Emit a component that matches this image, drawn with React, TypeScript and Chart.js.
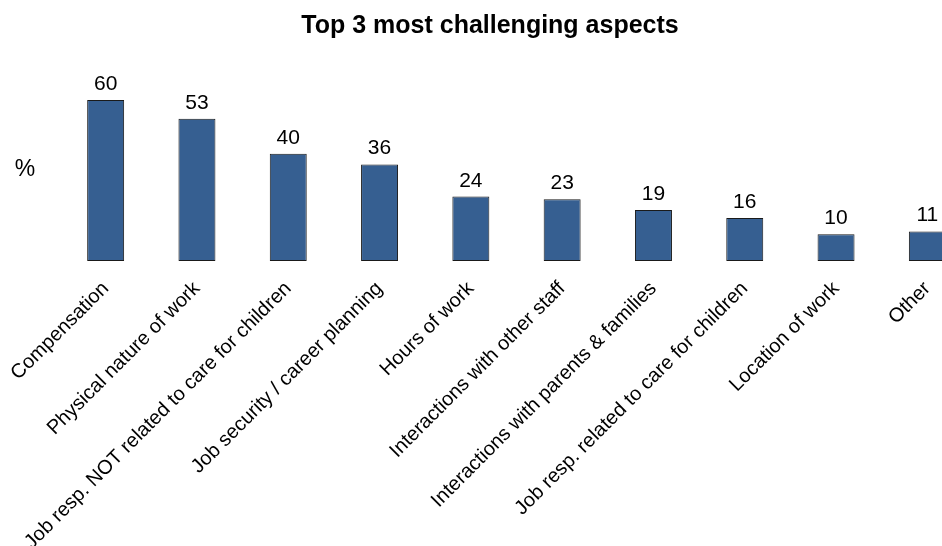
import { useEffect, useRef } from "react";
import { Chart, registerables } from "chart.js";

Chart.register(...registerables);

const categories = [
  "Compensation",
  "Physical nature of work",
  "Job resp. NOT related to care for children",
  "Job security / career planning",
  "Hours of work",
  "Interactions with other staff",
  "Interactions with parents & families",
  "Job resp. related to care for children",
  "Location of work",
  "Other",
];
const values = [60, 53, 40, 36, 24, 23, 19, 16, 10, 11];
const chartTitle = "Top 3 most challenging aspects";
const unitLabel = "%";

const FONT = "'Liberation Sans', Arial, sans-serif";
const CANVAS_W = 1000;
const CANVAS_H = 546;

export default function App() {
  const ref = useRef<HTMLCanvasElement>(null);

  useEffect(() => {
    if (!ref.current) return;
    const overlay = {
      id: "overlay",
      afterDatasetsDraw(chart: any) {
        const ctx = chart.ctx;
        const meta = chart.getDatasetMeta(0);
        ctx.save();
        ctx.fillStyle = "#000";
        ctx.textAlign = "center";
        ctx.textBaseline = "alphabetic";
        ctx.font = `21px ${FONT}`;
        meta.data.forEach((el: any, i: number) => {
          ctx.fillText(String(values[i]), el.x, el.y - 10);
        });
        ctx.font = `bold 25px ${FONT}`;
        ctx.textBaseline = "middle";
        ctx.fillText(chartTitle, 490, 26);
        ctx.font = `23px ${FONT}`;
        ctx.fillText(unitLabel, 25, 170);
        ctx.restore();
      },
    };

    const chart = new Chart(ref.current, {
      type: "bar",
      data: {
        labels: categories,
        datasets: [
          {
            data: values,
            backgroundColor: "#365f91",
            borderColor: "#1a1a1a",
            borderWidth: 1,
            borderSkipped: false,
            categoryPercentage: 1,
            barPercentage: 0.405,
          },
        ],
      },
      options: {
        responsive: false,
        animation: false,
        devicePixelRatio: 1,
        layout: { padding: { left: 60, right: 27, top: 100, bottom: 0 } },
        plugins: {
          legend: { display: false },
          title: { display: false },
          tooltip: { enabled: false },
        },
        scales: {
          x: {
            grid: { display: false, drawTicks: false },
            border: { display: false },
            ticks: {
              color: "#000",
              font: { family: FONT, size: 20 },
              minRotation: 45,
              maxRotation: 45,
              autoSkip: false,
              padding: 16,
            },
            afterFit: (scale: any) => {
              scale.height = CANVAS_H - 261;
              scale.paddingLeft = 0;
              scale.paddingRight = 0;
            },
          },
          y: {
            display: false,
            min: 0,
            max: 60,
          },
        },
      },
      plugins: [overlay],
    });
    return () => chart.destroy();
  }, []);

  return (
    <div
      style={{
        position: "fixed",
        left: 0,
        top: 0,
        width: 942,
        height: 546,
        overflow: "hidden",
        background: "#fff",
      }}
    >
      <canvas
        ref={ref}
        width={CANVAS_W}
        height={CANVAS_H}
        style={{ display: "block", width: CANVAS_W, height: CANVAS_H }}
      />
    </div>
  );
}
